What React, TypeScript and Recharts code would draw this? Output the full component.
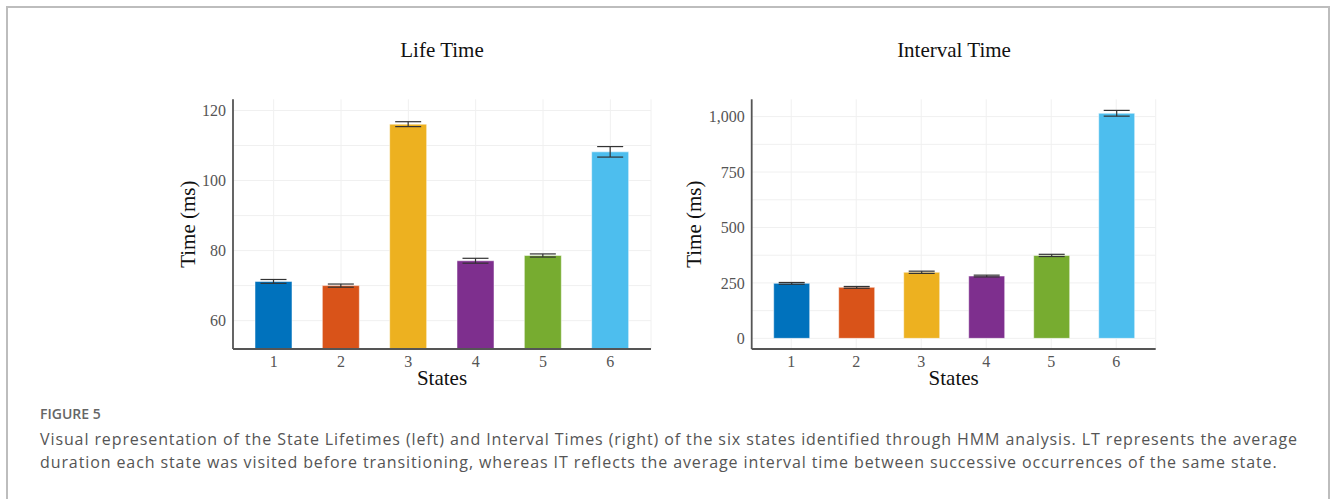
import { BarChart, Bar, XAxis, YAxis, CartesianGrid, ErrorBar, Cell } from 'recharts'

const states = ['1', '2', '3', '4', '5', '6']
const lifeTime = [71.2, 70.0, 116.1, 77.1, 78.6, 108.2]
const lifeTimeErr = [0.55, 0.45, 0.7, 0.7, 0.45, 1.5]
const intervalTime = [248, 230, 298, 281, 374, 1015]
const intervalTimeErr = [4, 4, 5, 4, 5, 13]
const lifeTicks = [60, 80, 100, 120]
const lifeGrid = [60, 70, 80, 90, 100, 110, 120]
const intervalTicks = [0, 250, 500, 750, 1000]
const intervalGrid = [0, 125, 250, 375, 500, 625, 750, 875, 1000]

const colors = ['#0072BD', '#D95319', '#EDB120', '#7E2F8E', '#77AC30', '#4DBEEE']

const lifeData = states.map((s, i) => ({ state: s, value: lifeTime[i], err: lifeTimeErr[i] }))
const intervalData = states.map((s, i) => ({ state: s, value: intervalTime[i], err: intervalTimeErr[i] }))

const serif = '"Liberation Serif", serif'
const tickStyle = { fontSize: 16, fill: '#555', fontFamily: serif }
const labelStyle = { fontSize: 21, fill: '#111', fontFamily: serif, textAnchor: 'middle' as const }

function StateChart({
  data, domain, ticks, grid, margin, barSize, labelOffset, fmt,
}: any) {
  return (
    <BarChart width={margin.w} height={310} data={data}
      margin={{ top: 9.3, right: margin.right, bottom: 6, left: margin.left }}>
      <CartesianGrid stroke="#f0f0f0" horizontalValues={grid} />
      <XAxis
        dataKey="state"
        padding={{ left: 7, right: 7 }}
        height={45}
        tickSize={0}
        tickMargin={7}
        tick={tickStyle}
        axisLine={{ stroke: '#555', strokeWidth: 1.8 }}
        label={{ value: 'States', position: 'insideBottom', offset: 9, style: labelStyle }}
      />
      <YAxis
        type="number"
        domain={domain}
        ticks={ticks}
        width={60}
        tickSize={0}
        tickMargin={7}
        tick={tickStyle}
        tickFormatter={fmt}
        allowDataOverflow
        axisLine={{ stroke: '#555', strokeWidth: 1.8 }}
        label={{ value: 'Time (ms)', angle: -90, position: 'insideLeft', offset: labelOffset, style: labelStyle }}
      />
      <Bar dataKey="value" barSize={barSize} isAnimationActive={false} stroke="#ffffff" strokeOpacity={0.5} strokeWidth={1}>
        {data.map((_: any, i: number) => (
          <Cell key={i} fill={colors[i]} />
        ))}
        <ErrorBar dataKey="err" width={13} stroke="#333" strokeWidth={1.2} />
      </Bar>
    </BarChart>
  )
}

export default function App() {
  return (
    <div style={{ position: 'relative', width: 1330, height: 499, background: '#fff', overflow: 'hidden' }}>
      <style>{'body{margin:0} .recharts-cartesian-axis-tick-value, .recharts-text{font-family:"Liberation Serif",serif !important}'}</style>
      <div style={{
        position: 'absolute', left: 6, top: 6, width: 1320, height: 520,
        borderTop: '2px solid #bdbdbd', borderLeft: '2px solid #bdbdbd', borderRight: '2px solid #bdbdbd',
      }} />
      <div style={{ position: 'absolute', left: 342, width: 200, top: 38, textAlign: 'center', fontFamily: serif, fontSize: 21, color: '#111' }}>
        Life Time
      </div>
      <div style={{ position: 'absolute', left: 854, width: 200, top: 38, textAlign: 'center', fontFamily: serif, fontSize: 21, color: '#111' }}>
        Interval Time
      </div>
      <div style={{ position: 'absolute', left: 150, top: 90 }}>
        <StateChart
          data={lifeData}
          domain={[51.9, 123.2]}
          ticks={lifeTicks}
          grid={lifeGrid}
          margin={{ w: 520, left: 23, right: 19 }}
          barSize={37}
          labelOffset={15}
          fmt={(v: number) => String(v)}
        />
      </div>
      <div style={{ position: 'absolute', left: 670, top: 90 }}>
        <StateChart
          data={intervalData}
          domain={[-48, 1078]}
          ticks={intervalTicks}
          grid={intervalGrid}
          margin={{ w: 510, left: 21.7, right: 24.3 }}
          barSize={36}
          labelOffset={2}
          fmt={(v: number) => v.toLocaleString('en-US')}
        />
      </div>
      <div style={{ position: 'absolute', left: 40, top: 404, fontFamily: '"Open Sans", sans-serif', fontSize: 14, fontWeight: 600, color: '#666' }}>
        FIGURE 5
      </div>
      <div style={{ position: 'absolute', left: 40, top: 428, width: 1285, whiteSpace: 'nowrap', fontFamily: '"Open Sans", sans-serif', fontSize: 16, letterSpacing: 0.9, lineHeight: '23px', color: '#555' }}>
        Visual representation of the State Lifetimes (left) and Interval Times (right) of the six states identified through HMM analysis. LT represents the average
        <br />
        duration each state was visited before transitioning, whereas IT reflects the average interval time between successive occurrences of the same state.
      </div>
    </div>
  )
}
